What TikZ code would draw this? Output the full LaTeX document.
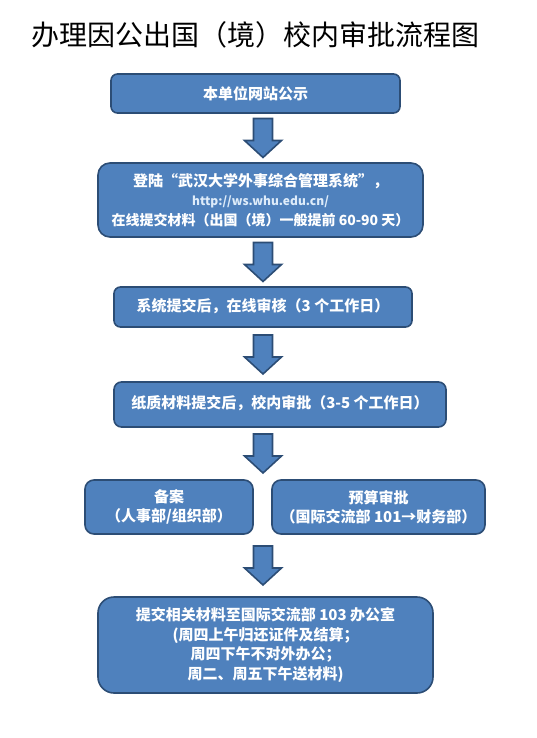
\documentclass[tikz,border=0pt]{standalone}
\usepackage{fontspec}
\setmainfont{Noto Sans CJK SC}
\usepackage{tikz}
\definecolor{boxblue}{RGB}{79, 129, 189}
\definecolor{edgeblue}{RGB}{44, 77, 117}
\definecolor{linkwhite}{RGB}{222, 236, 250}
\usetikzlibrary{calc}

\begin{document}
\begin{tikzpicture}[x=1pt, y=-1pt,
    stepbox/.style={draw=edgeblue, line width=1.6pt, fill=boxblue, text=white, align=center,
        font=\bfseries\fontsize{15}{19.5}\selectfont, inner sep=0pt},
    flowarrow/.style={draw=edgeblue, line width=1.6pt, fill=boxblue, line join=miter}]
    % Page frame
    \useasboundingbox (0,0) rectangle (537,738);

    % Title
    \node[font=\fontsize{28}{28}\selectfont] (title) at (255.5,35) {办理因公出国（境）校内审批流程图};

    % Steps
    \node[stepbox, minimum width=289, minimum height=39, rounded corners=6.5] (b1) at (255.5,93.5)
        {\raisebox{2pt}{本单位网站公示}};
    \node[stepbox, minimum width=325, minimum height=74, rounded corners=12] (b2) at (260.5,200)
        {登陆“武汉大学外事综合管理系统”，\\
         {\fontsize{12}{19.5}\selectfont\color{linkwhite}http://ws.whu.edu.cn/}\\
         {\fontsize{14}{19.5}\selectfont 在线提交材料（出国（境）一般提前 60-90 天）}};
    \node[stepbox, minimum width=298, minimum height=40, rounded corners=6.5] (b3) at (263,307)
        {\raisebox{4pt}{系统提交后，在线审核（3 个工作日）}};
    \node[stepbox, minimum width=332, minimum height=45, rounded corners=7.5] (b4) at (280,404.5)
        {\raisebox{5pt}{纸质材料提交后，校内审批（3-5 个工作日）}};

    % Two offices side by side
    \node[stepbox, minimum width=168, minimum height=54, rounded corners=9] (b5a) at (169,507)
        {备案\\（人事部/组织部）};
    \node[stepbox, minimum width=213, minimum height=54, rounded corners=9] (b5b) at (378.5,507)
        {预算审批\\（国际交流部 101→财务部）};

    % Last step
    \node[stepbox, minimum width=335, minimum height=96, rounded corners=16] (b6) at (265.5,645)
        {提交相关材料至国际交流部 103 办公室\\
         (周四上午归还证件及结算；\\
         周四下午不对外办公；\\
         周二、周五下午送材料)};

    % Column of the arrows
    \coordinate (col) at (263,0);

    % Block arrows between the steps
    \foreach \a/\b in {b1/b2, b2/b3, b3/b4, b4/b5a, b5a/b6} {
        \draw[flowarrow] let \p1 = ($(\a.south)!0.5!(\b.north)$), \p2 = (col) in
            (\x2-9.5pt,\y1+19.5pt) -- (\x2+9.5pt,\y1+19.5pt) -- (\x2+9.5pt,\y1-2.5pt)
            -- (\x2+18.5pt,\y1-2.5pt) -- (\x2,\y1-19.5pt) -- (\x2-18.5pt,\y1-2.5pt)
            -- (\x2-9.5pt,\y1-2.5pt) -- cycle;
    }
\end{tikzpicture}
\end{document}
